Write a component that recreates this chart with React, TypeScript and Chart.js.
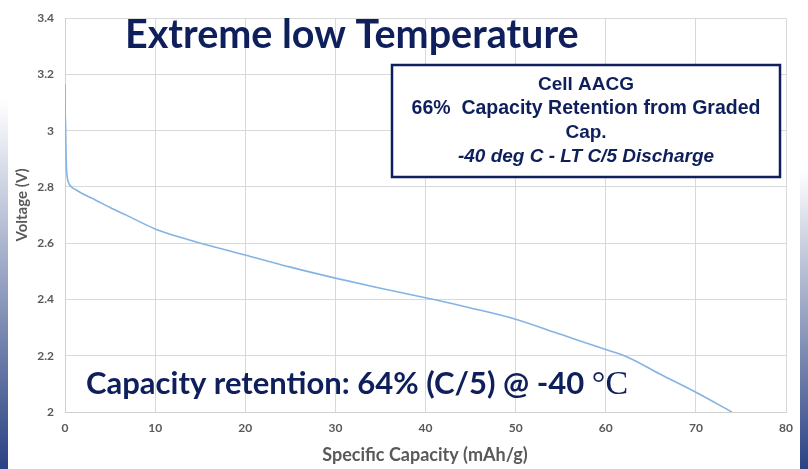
import React, { useEffect, useRef } from "react";
import { Chart, registerables } from "chart.js";

Chart.register(...registerables);

const capacity = [0, 0.03, 0.06, 0.1, 0.15, 0.2, 0.3, 0.5, 0.8, 1.2, 2, 3, 5, 6.8, 10, 14.2, 20, 25, 30, 35, 40, 45, 50, 55, 60, 62.5, 66, 70, 74];
const voltage = [3.165, 3.05, 3.03, 2.95, 2.88, 2.85, 2.825, 2.808, 2.798, 2.79, 2.775, 2.76, 2.727, 2.7, 2.651, 2.608, 2.558, 2.515, 2.476, 2.44, 2.406, 2.37, 2.33, 2.276, 2.222, 2.194, 2.135, 2.07, 2.0];

const xTitle = "Specific Capacity (mAh/g)";
const yTitle = "Voltage (V)";
const chartTitle = "Extreme low Temperature";
const boxLines = ["Cell AACG", "66%  Capacity Retention from Graded", "Cap.", "-40 deg C - LT C/5 Discharge"];
const noteMain = "Capacity retention: 64% (C/5) @ -40 ";
const noteUnit = "°C";

const NAVY = "#0e1f5b";
const GREY = "#595959";

const decor = {
  id: "decor",
  beforeDraw(chart: any) {
    const ctx = chart.ctx;
    ctx.save();
    ctx.fillStyle = "#ffffff";
    ctx.fillRect(0, 0, chart.width, chart.height);
    const gl = ctx.createLinearGradient(0, 100, 0, 469);
    gl.addColorStop(0, "rgba(255,255,255,1)");
    gl.addColorStop(1, "#2a4283");
    ctx.fillStyle = gl;
    ctx.fillRect(0, 0, 8, 469);
    const gr = ctx.createLinearGradient(0, 170, 0, 469);
    gr.addColorStop(0, "rgba(255,255,255,1)");
    gr.addColorStop(1, "#2a4283");
    ctx.fillStyle = gr;
    ctx.fillRect(800, 0, 8, 469);
    ctx.restore();
  },
  afterDraw(chart: any) {
    const ctx = chart.ctx;
    ctx.save();
    ctx.translate(22, 205);
    ctx.rotate(-Math.PI / 2);
    ctx.fillStyle = GREY;
    ctx.font = "bold 15px Lato";
    ctx.textAlign = "center";
    ctx.textBaseline = "middle";
    ctx.fillText(yTitle, 0, 0);
    ctx.restore();

    ctx.save();
    ctx.fillStyle = GREY;
    ctx.font = "bold 18px Lato";
    ctx.textAlign = "center";
    ctx.textBaseline = "middle";
    ctx.fillText(xTitle, 425, 455);

    ctx.fillStyle = NAVY;
    ctx.font = "bold 39.5px Lato";
    ctx.textAlign = "left";
    ctx.textBaseline = "alphabetic";
    ctx.fillText(chartTitle, 125, 48);

    ctx.font = "bold 31px Lato";
    ctx.fillText(noteMain, 86, 394);
    const w = ctx.measureText(noteMain).width;
    ctx.font = "34px 'Liberation Serif'";
    ctx.fillText(noteUnit, 86 + w, 394);

    ctx.fillStyle = "#ffffff";
    ctx.fillRect(392, 65, 388, 112);
    ctx.strokeStyle = NAVY;
    ctx.lineWidth = 2.5;
    ctx.strokeRect(392, 65, 388, 112);
    ctx.fillStyle = NAVY;
    ctx.textAlign = "center";
    ctx.textBaseline = "middle";
    const cx = 586;
    ctx.font = "bold 19px 'Liberation Sans'";
    ctx.fillText(boxLines[0], cx, 85);
    ctx.font = "bold 19.5px 'Liberation Sans'";
    ctx.fillText(boxLines[1], cx, 109);
    ctx.font = "bold 19px 'Liberation Sans'";
    ctx.fillText(boxLines[2], cx, 133);
    ctx.font = "italic bold 19px 'Liberation Sans'";
    ctx.fillText(boxLines[3], cx, 157);
    ctx.restore();
  },
};

export default function App() {
  const ref = useRef<HTMLCanvasElement>(null);
  useEffect(() => {
    if (!ref.current) return;
    const chart = new Chart(ref.current, {
      type: "line",
      data: {
        datasets: [
          {
            data: capacity.map((c, i) => ({ x: c, y: voltage[i] })),
            borderColor: "#84b4e4",
            borderWidth: 1.6,
            pointRadius: 0,
            cubicInterpolationMode: "monotone",
            fill: false,
          },
        ],
      },
      options: {
        animation: false,
        responsive: false,
        maintainAspectRatio: false,
        layout: { padding: { top: 12, right: 22, left: 0, bottom: 0 } },
        plugins: { legend: { display: false }, tooltip: { enabled: false } },
        scales: {
          x: {
            type: "linear",
            min: 0,
            max: 80,
            ticks: { stepSize: 10, color: GREY, font: { family: "Lato", size: 12, weight: "bold" }, padding: 9 },
            grid: { color: "#d9d9d9", drawTicks: false },
            border: { color: "#d0d0d0" },
            afterFit: (s: any) => { s.height = 57; },
          },
          y: {
            type: "linear",
            min: 2,
            max: 3.4,
            ticks: {
              stepSize: 0.2,
              color: GREY,
              font: { family: "Lato", size: 12, weight: "bold" },
              padding: 11,
              callback: (v: any) => String(Number(Number(v).toFixed(1))),
            },
            grid: { color: "#d9d9d9", drawTicks: false },
            border: { color: "#d0d0d0" },
            afterFit: (s: any) => { s.width = 65; },
          },
        },
      },
      plugins: [decor],
    });
    return () => chart.destroy();
  }, []);
  return (
    <div style={{ position: "absolute", left: 0, top: 0, width: 808, height: 469 }}>
      <canvas ref={ref} width={808} height={469} style={{ width: 808, height: 469, display: "block" }} />
    </div>
  );
}
